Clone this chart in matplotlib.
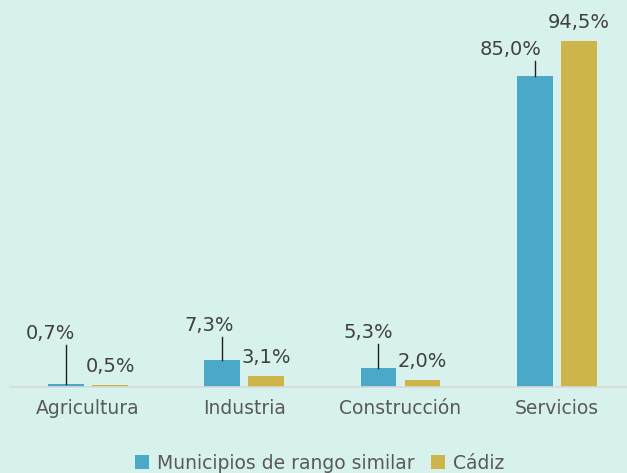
import matplotlib
matplotlib.use("Agg")
import matplotlib.pyplot as plt
import numpy as np

categories = ["Agricultura", "Industria", "Construcción", "Servicios"]
municipios = [0.7, 7.3, 5.3, 85.0]
cadiz = [0.5, 3.1, 2.0, 94.5]
series_names = ["Municipios de rango similar", "Cádiz"]
mun_labels = ["0,7%", "7,3%", "5,3%", "85,0%"]
cad_labels = ["0,5%", "3,1%", "2,0%", "94,5%"]
# label positions for the blue series (dx from category centre, y in data units), leader line top
mun_label_dx = [-0.243, -0.224, -0.208, -0.294]
mun_label_y = [14.5, 16.9, 14.8, 92.1]
mun_line_top = [11.5, 13.7, 11.7, 89.1]

bg = "#d7f1ed"
blue = "#4aa8c8"
gold = "#cdb54a"

fig = plt.figure(figsize=(6.27, 4.73), dpi=100, facecolor=bg)
ax = fig.add_axes([10/627, 86/473, 617/627, 366/473], facecolor=bg)

x = np.arange(len(categories))
w = 0.23
off = 0.141
ax.bar(x - off, municipios, w, color=blue, label=series_names[0], zorder=2)
ax.bar(x + off, cadiz, w, color=gold, label=series_names[1], zorder=2)

for i in range(len(categories)):
    ax.text(x[i] + mun_label_dx[i], mun_label_y[i], mun_labels[i], ha="center", va="center",
            fontsize=14, color="#404040")
    ax.plot([x[i] - off, x[i] - off], [municipios[i], mun_line_top[i]], color="#202020", lw=1, zorder=3)
    ax.annotate(cad_labels[i], (x[i] + off, cadiz[i]), xytext=(0, 6.5), textcoords="offset points",
                ha="center", va="bottom", fontsize=14, color="#404040")

ax.set_xlim(-0.5, 3.45)
ax.set_ylim(0, 366 / 3.66)
for s in ["top", "right", "left"]:
    ax.spines[s].set_visible(False)
ax.spines["bottom"].set_color("#d9d9d9")
ax.spines["bottom"].set_linewidth(1.2)
ax.set_yticks([])
ax.set_xticks(x)
ax.set_xticklabels(categories, fontsize=13.5, color="#595959")
ax.tick_params(axis="x", length=0, pad=8.5)

leg = fig.legend(loc="center", bbox_to_anchor=(0.51, 0.021), ncol=2, frameon=False,
                 fontsize=13.5, handlelength=0.75, handleheight=0.75, handletextpad=0.4,
                 columnspacing=0.9, borderaxespad=0)
for t in leg.get_texts():
    t.set_color("#595959")

fig.savefig("out.png", dpi=100, facecolor=bg)
